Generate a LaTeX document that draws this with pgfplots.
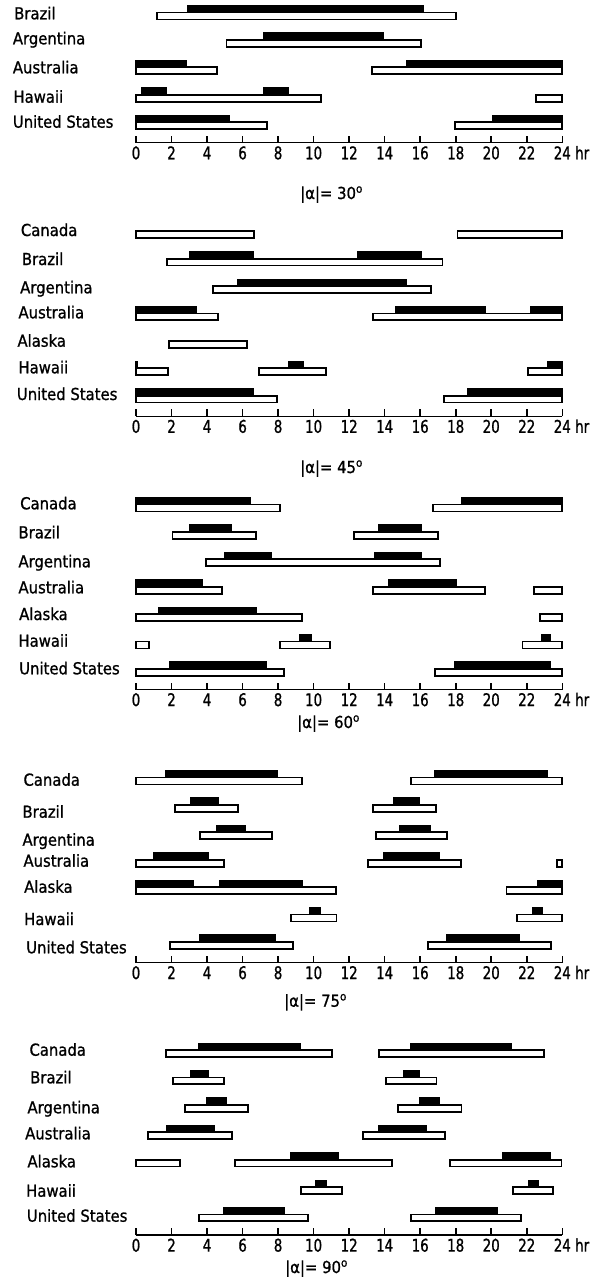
\documentclass[border=0pt]{standalone}
\usepackage{pgfplots}
\pgfplotsset{compat=1.18}
\usepackage{fontspec}
\setmainfont{DejaVu Sans Condensed}[FakeBold=1]
\newfontfamily\tickfont{DejaVu Sans Condensed}[FakeStretch=0.85,FakeBold=1]
\newcommand{\lab}{\fontsize{16.5}{18}\selectfont}
\newcommand{\tk}{\tickfont\fontsize{17.5}{19}\selectfont}
\newcommand{\Wb}[4]{\addplot[wbar] coordinates {(#1,#3) (#2,#3) (#2,#4) (#1,#4)} -- cycle;}
\newcommand{\Bk}[4]{\addplot[bbar] coordinates {(#1,#3) (#2,#3) (#2,#4) (#1,#4)} -- cycle;}
\pgfplotsset{
 wbar/.style={draw=black, fill=white, line width=1.8pt, line join=miter, mark=none},
 bbar/.style={draw=black, fill=black, line width=1.4pt, line join=miter, mark=none},
 panel/.style={scale only axis, width=426.3pt, y=6.85pt, xmin=0, xmax=24, ymin=-2,
   clip=false, hide y axis, axis x line=bottom, x axis line style={-, line width=1.3pt},
   xtick={0,2,...,24}, xtick align=inside, major tick length=7pt,
   xtick style={line width=1.6pt, black},
   xticklabel style={font=\tk, anchor=base, yshift=-16.6pt},
   /pgf/number format/assume math mode=true,
   anchor=south west}
}
\begin{document}
\begin{tikzpicture}
\useasboundingbox (0,0) rectangle (602pt,-1280pt);
% ---------- |alpha| = 30
\begin{axis}[panel, at={(136pt,-142.7pt)}, ymax=18.5]
% Brazil
\Wb{1.16}{18.0}{16}{17} \Bk{2.89}{16.17}{17}{18}
% Argentina
\Wb{5.1}{16.04}{12}{13} \Bk{7.17}{13.9}{13}{14}
% Australia
\Wb{0}{4.54}{8}{9} \Wb{13.3}{24}{8}{9} \Bk{0}{2.81}{9}{10} \Bk{15.23}{24}{9}{10}
% Hawaii
\Wb{0}{10.4}{4}{5} \Wb{22.5}{24}{4}{5} \Bk{0.32}{1.69}{5}{6} \Bk{7.17}{8.6}{5}{6}
% United States
\Wb{0}{7.39}{0}{1} \Wb{17.97}{24}{0}{1} \Bk{0}{5.25}{1}{2} \Bk{20.07}{24}{1}{2}
\end{axis}
% ---------- |alpha| = 45
\begin{axis}[panel, at={(136pt,-416.2pt)}, ymax=26.5]
\Wb{0}{6.66}{24}{25} \Wb{18.1}{24}{24}{25}
\Wb{1.76}{17.26}{20}{21} \Bk{3.0}{6.6}{21}{22} \Bk{12.48}{16.04}{21}{22}
\Wb{4.32}{16.6}{16}{17} \Bk{5.72}{15.23}{17}{18}
\Wb{0}{4.6}{12}{13} \Wb{13.36}{24}{12}{13} \Bk{0}{3.38}{13}{14} \Bk{14.63}{19.68}{13}{14} \Bk{22.23}{24}{13}{14}
\Wb{1.88}{6.23}{8}{9}
\Wb{0}{1.82}{4}{5} \Wb{6.94}{10.68}{4}{5} \Wb{22.05}{24}{4}{5} \Bk{0}{0.06}{5}{6} \Bk{8.57}{9.42}{5}{6} \Bk{23.2}{24}{5}{6}
\Wb{0}{7.92}{0}{1} \Wb{17.35}{24}{0}{1} \Bk{0}{6.6}{1}{2} \Bk{18.67}{24}{1}{2}
\end{axis}
% ---------- |alpha| = 60
\begin{axis}[panel, at={(136pt,-689.5pt)}, ymax=26.5]
\Wb{0}{8.1}{24}{25} \Wb{16.73}{24}{24}{25} \Bk{0}{6.42}{25}{26} \Bk{18.33}{24}{25}{26}
\Wb{2.06}{6.75}{20}{21} \Wb{12.29}{17.02}{20}{21} \Bk{3.04}{5.38}{21}{22} \Bk{13.64}{16.04}{21}{22}
\Wb{3.94}{17.11}{16}{17} \Bk{5.0}{7.6}{17}{18} \Bk{13.45}{16.04}{17}{18}
\Wb{0}{4.82}{12}{13} \Wb{13.32}{19.64}{12}{13} \Wb{22.4}{24}{12}{13} \Bk{0}{3.75}{13}{14} \Bk{14.24}{18.05}{13}{14}
\Wb{0}{9.36}{8}{9} \Wb{22.74}{24}{8}{9} \Bk{1.26}{6.75}{9}{10}
\Wb{0}{0.75}{4}{5} \Wb{8.1}{10.92}{4}{5} \Wb{21.76}{24}{4}{5} \Bk{9.23}{9.89}{5}{6} \Bk{22.83}{23.34}{5}{6}
\Wb{0}{8.35}{0}{1} \Wb{16.83}{24}{0}{1} \Bk{1.88}{7.32}{1}{2} \Bk{17.92}{23.34}{1}{2}
\end{axis}
% ---------- |alpha| = 75
\begin{axis}[panel, at={(136pt,-962.5pt)}, ymax=26.5]
\Wb{0}{9.36}{24}{25} \Wb{15.46}{24}{24}{25} \Bk{1.69}{7.97}{25}{26} \Bk{16.79}{23.17}{25}{26}
\Wb{2.2}{5.76}{20}{21} \Wb{13.32}{16.89}{20}{21} \Bk{3.1}{4.63}{21}{22} \Bk{14.48}{15.95}{21}{22}
\Wb{3.6}{7.64}{16}{17} \Wb{13.5}{17.49}{16}{17} \Bk{4.54}{6.17}{17}{18} \Bk{14.86}{16.59}{17}{18}
\Wb{0}{4.97}{12}{13} \Wb{13.08}{18.29}{12}{13} \Wb{23.7}{24}{12}{13} \Bk{0.98}{4.07}{13}{14} \Bk{13.92}{17.05}{13}{14}
\Wb{0}{11.26}{8}{9} \Wb{20.86}{24}{8}{9} \Bk{0}{3.23}{9}{10} \Bk{4.73}{9.38}{9}{10} \Bk{22.59}{24}{9}{10}
\Wb{8.72}{11.29}{4}{5} \Wb{21.43}{24}{4}{5} \Bk{9.79}{10.36}{5}{6} \Bk{22.36}{22.87}{5}{6}
\Wb{1.91}{8.82}{0}{1} \Wb{16.45}{23.36}{0}{1} \Bk{3.6}{7.82}{1}{2} \Bk{17.49}{21.58}{1}{2}
\end{axis}
% ---------- |alpha| = 90
\begin{axis}[panel, at={(136pt,-1235pt)}, ymax=26.5]
\Wb{1.69}{11.05}{24}{25} \Wb{13.7}{22.98}{24}{25} \Bk{3.51}{9.27}{25}{26} \Bk{15.46}{21.14}{25}{26}
\Wb{2.1}{4.97}{20}{21} \Wb{14.07}{16.92}{20}{21} \Bk{3.1}{4.07}{21}{22} \Bk{15.08}{15.95}{21}{22}
\Wb{2.76}{6.32}{16}{17} \Wb{14.73}{18.33}{16}{17} \Bk{3.98}{5.07}{17}{18} \Bk{15.95}{17.05}{17}{18}
\Wb{0.66}{5.42}{12}{13} \Wb{12.76}{17.39}{12}{13} \Bk{1.73}{4.41}{13}{14} \Bk{13.64}{16.32}{13}{14}
\Wb{0}{2.48}{8}{9} \Wb{5.57}{14.39}{8}{9} \Wb{17.67}{23.96}{8}{9} \Bk{8.71}{11.39}{9}{10} \Bk{20.62}{23.34}{9}{10}
\Wb{9.27}{11.61}{4}{5} \Wb{21.24}{23.49}{4}{5} \Bk{10.11}{10.73}{5}{6} \Bk{22.08}{22.65}{5}{6}
\Wb{3.55}{9.7}{0}{1} \Wb{15.46}{21.67}{0}{1} \Bk{4.92}{8.35}{1}{2} \Bk{16.87}{20.36}{1}{2}
\end{axis}
% ---------- row labels, hr, titles
\begin{scope}[every node/.style={anchor=base west, inner sep=0pt, font=\lab}]
\node at (14pt,-19.3pt) {Brazil};
\node at (12.7pt,-44.3pt) {Argentina};
\node at (12.7pt,-73.3pt) {Australia};
\node at (13.3pt,-102.7pt) {Hawaii};
\node at (12.7pt,-127.7pt) {United States};
\node at (20.7pt,-236pt) {Canada};
\node at (21.7pt,-265pt) {Brazil};
\node at (20pt,-293.3pt) {Argentina};
\node at (18.3pt,-318.3pt) {Australia};
\node at (17.3pt,-346.7pt) {Alaska};
\node at (18.3pt,-373.3pt) {Hawaii};
\node at (16.7pt,-400pt) {United States};
\node at (20pt,-509.3pt) {Canada};
\node at (18.3pt,-538.3pt) {Brazil};
\node at (18.3pt,-567.3pt) {Argentina};
\node at (18.3pt,-593.3pt) {Australia};
\node at (19pt,-620pt) {Alaska};
\node at (18.3pt,-646.7pt) {Hawaii};
\node at (19pt,-674.3pt) {United States};
\node at (23.3pt,-785.7pt) {Canada};
\node at (22.3pt,-817.7pt) {Brazil};
\node at (22.3pt,-845.7pt) {Argentina};
\node at (23.3pt,-866.7pt) {Australia};
\node at (24pt,-892.7pt) {Alaska};
\node at (24pt,-925pt) {Hawaii};
\node at (26pt,-953.3pt) {United States};
\node at (29.3pt,-1055.7pt) {Canada};
\node at (30pt,-1083.3pt) {Brazil};
\node at (27.3pt,-1113.3pt) {Argentina};
\node at (25pt,-1139.3pt) {Australia};
\node at (27.3pt,-1167.3pt) {Alaska};
\node at (26pt,-1196.7pt) {Hawaii};
\node at (26.7pt,-1221.7pt) {United States};
\node[font=\tk] at (575pt,-159.3pt) {hr};
\node[font=\tk] at (575pt,-432.8pt) {hr};
\node[font=\tk] at (575pt,-706.1pt) {hr};
\node[font=\tk] at (575pt,-979.1pt) {hr};
\node[font=\tk] at (575pt,-1251.6pt) {hr};
\node at (300pt,-199pt) {|α|= 30\textsuperscript{o}};
\node at (300pt,-473pt) {|α|= 45\textsuperscript{o}};
\node at (297pt,-728pt) {|α|= 60\textsuperscript{o}};
\node at (284pt,-1006.7pt) {|α|= 75\textsuperscript{o}};
\node at (285pt,-1273pt) {|α|= 90\textsuperscript{o}};
\end{scope}
\end{tikzpicture}
\end{document}
